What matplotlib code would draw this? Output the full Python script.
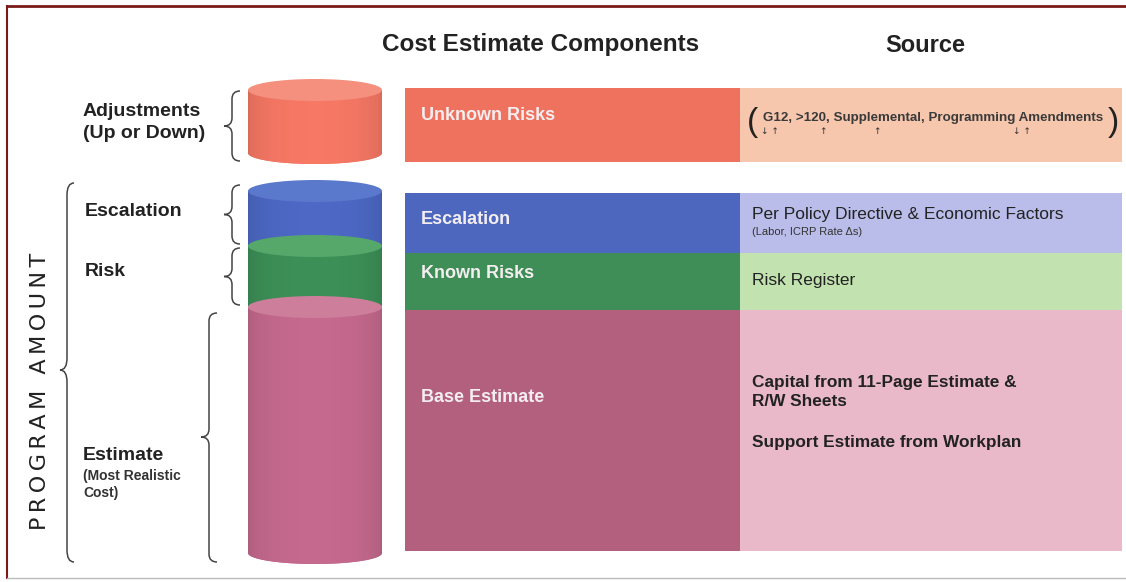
import matplotlib
matplotlib.use("Agg")
import numpy as np
import matplotlib.pyplot as plt
from matplotlib.patches import Rectangle, Ellipse, PathPatch
from matplotlib.path import Path
from matplotlib.colors import to_rgb

plt.rcParams['font.family'] = ['Liberation Sans', 'DejaVu Sans']

# Data: cost estimate components, stacked top to bottom (pixel rows of the diagram)
components = ["Unknown Risks", "Escalation", "Known Risks", "Base Estimate"]
comp_top = [88, 193, 253, 310]
comp_bottom = [162, 253, 310, 551]
comp_colors = ["#ef725f", "#4d67bf", "#3f8d57", "#b3607f"]
source_colors = ["#f6c6ad", "#babde9", "#c2e2b0", "#e9b9c9"]

# cylinder segments (top ellipse centre, bottom ellipse centre)
cyl_names = ["Adjustments", "Escalation", "Risk", "Estimate"]
cyl_top = [90, 191, 246, 307]
cyl_bottom = [153, 246, 305, 553]
cyl_colors = ["#f07562", "#4b66c0", "#3b8c55", "#c0678a"]
cyl_lids = ["#f58f7e", "#5a78cc", "#55a86a", "#cc7e9a"]

fig = plt.figure(figsize=(11.26, 5.82), dpi=100)
ax = fig.add_axes([0, 0, 1, 1])
ax.set_xlim(0, 1126)
ax.set_ylim(582, 0)
ax.axis('off')

# frame
ax.plot([7, 1126], [6, 6], color="#7a1a1a", lw=2)
ax.plot([7, 7], [6, 578], color="#7a1a1a", lw=1.5)
ax.plot([7, 1126], [578, 578], color="#bbbbbb", lw=1)

# headers
ax.text(541, 45, "Cost Estimate Components", fontsize=17.5, fontweight='bold',
        ha='center', va='center', color="#222222")
ax.text(925, 45, "Source", fontsize=17, fontweight='bold',
        ha='center', va='center', color="#222222")

# component and source bands
x0, x1, x2 = 405, 740, 1122
for t, b, c, s in zip(comp_top, comp_bottom, comp_colors, source_colors):
    ax.add_patch(Rectangle((x0, t), x1 - x0, b - t, color=c, lw=0))
    ax.add_patch(Rectangle((x1, t), x2 - x1, b - t, color=s, lw=0))

label_y = [115, 220, 273, 397]
for name, y in zip(components, label_y):
    ax.text(421, y, name, fontsize=13, fontweight='bold', color="#f4eef0",
            ha='left', va='center')

# source texts
ax.text(747, 122, "(", fontsize=24, ha='left', va='center', color="#222222")
ax.text(1119, 122, ")", fontsize=24, ha='right', va='center', color="#222222")
ax.text(763, 118, "G12, >120, Supplemental, Programming Amendments",
        fontsize=9.6, fontweight='bold', ha='left', va='center', color="#3a3a3a")
for ax_x, arr in [(770, "↓ ↑"), (823, "↑"), (877, "↑"), (1022, "↓ ↑")]:
    ax.text(ax_x, 131, arr, fontsize=6.5, ha='center', va='center',
            color="#333333", family=['DejaVu Sans'])

ax.text(752, 215, "Per Policy Directive & Economic Factors", fontsize=12.5,
        ha='left', va='center', color="#222222")
ax.text(752, 232, "(Labor, ICRP Rate \u0394s)", fontsize=8,
        ha='left', va='center', color="#333333")
ax.text(752, 280, "Risk Register", fontsize=12.5, ha='left', va='center',
        color="#222222")
ax.text(752, 383, "Capital from 11-Page Estimate &", fontsize=12.4,
        fontweight='bold', ha='left', va='center', color="#222222")
ax.text(752, 401, "R/W Sheets", fontsize=12.4, fontweight='bold',
        ha='left', va='center', color="#222222")
ax.text(752, 443, "Support Estimate from Workplan", fontsize=12.4,
        fontweight='bold', ha='left', va='center', color="#222222")

# cylinders with a soft horizontal shading
cx, cw, ry = 315, 134, 11
xs = np.linspace(-1, 1, 200)
shade = 0.9 + 0.13 * (1 - xs ** 2) ** 0.5
for t, b, c, lid in zip(cyl_top, cyl_bottom, cyl_colors, cyl_lids):
    left, right = cx - cw / 2, cx + cw / 2
    theta = np.linspace(np.pi, 0, 40)
    arc = [(cx + cw / 2 * np.cos(a), b + ry * np.sin(a)) for a in theta]
    verts = [(left, t)] + [(left, b)] + arc + [(right, t), (left, t)]
    codes = [Path.MOVETO] + [Path.LINETO] * (len(verts) - 2) + [Path.CLOSEPOLY]
    body = PathPatch(Path(verts, codes), facecolor=c, lw=0)
    ax.add_patch(body)
    rgb = np.clip(np.array(to_rgb(c))[None, None, :] * shade[None, :, None], 0, 1)
    im = ax.imshow(rgb, extent=[left, right, b + ry, t], aspect='auto',
                   interpolation='bilinear', zorder=1)
    im.set_clip_path(body)
    ax.add_patch(Ellipse((cx, t), cw, 2 * ry, color=lid, lw=0, zorder=2))
ax.set_xlim(0, 1126)
ax.set_ylim(582, 0)


def brace(xr, y0, y1, w, ymid=None, r=8):
    if ymid is None:
        ymid = (y0 + y1) / 2
    xm = xr - w / 2
    xl = xr - w
    verts = [(xr, y0), (xm, y0), (xm, y0 + r),
             (xm, ymid - r),
             (xm, ymid), (xl, ymid),
             (xm, ymid), (xm, ymid + r),
             (xm, y1 - r),
             (xm, y1), (xr, y1)]
    codes = [Path.MOVETO, Path.CURVE3, Path.CURVE3,
             Path.LINETO,
             Path.CURVE3, Path.CURVE3,
             Path.CURVE3, Path.CURVE3,
             Path.LINETO,
             Path.CURVE3, Path.CURVE3]
    ax.add_patch(PathPatch(Path(verts, codes), fill=False, lw=1.1,
                           edgecolor="#444444"))


brace(240, 91, 161, 16)
brace(240, 185, 244, 16)
brace(240, 248, 305, 16)
brace(217, 313, 562, 16, ymid=437)
brace(74, 183, 562, 14, ymid=370, r=12)

# left labels
ax.text(83, 112, "Adjustments", fontsize=14, fontweight='bold',
        ha='left', va='center', color="#222222")
ax.text(83, 134, "(Up or Down)", fontsize=14, fontweight='bold',
        ha='left', va='center', color="#222222")
ax.text(85, 211, "Escalation", fontsize=14, fontweight='bold',
        ha='left', va='center', color="#222222")
ax.text(85, 272, "Risk", fontsize=14, fontweight='bold',
        ha='left', va='center', color="#222222")
ax.text(83, 455, "Estimate", fontsize=14, fontweight='bold',
        ha='left', va='center', color="#222222")
ax.text(83, 476, "(Most Realistic", fontsize=10, fontweight='bold',
        ha='left', va='center', color="#333333")
ax.text(83, 493, "Cost)", fontsize=10, fontweight='bold',
        ha='left', va='center', color="#333333")

ax.text(40, 391, "\u2009".join("PROGRAM AMOUNT"), fontsize=16, rotation=90,
        ha='center', va='center', color="#222222", family=['DejaVu Sans'])

fig.savefig("out.png", dpi=100)
